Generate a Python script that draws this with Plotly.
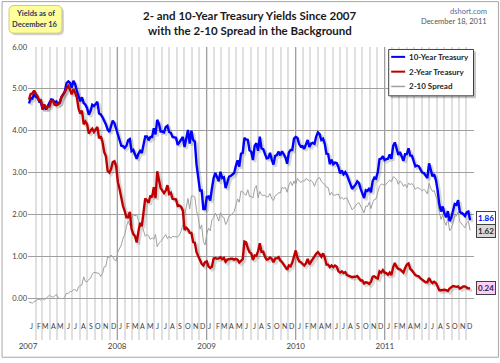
import pandas as pd
import plotly.graph_objects as go

# ---------------- data (weekly readings, Fridays) ----------------
ten_2007 = [4.65, 4.78, 4.77, 4.88, 4.81, 4.79, 4.69, 4.68, 4.51, 4.59, 4.51, 4.60, 4.65,
            4.75, 4.74, 4.67, 4.70, 4.64, 4.67, 4.80, 4.86, 4.95, 5.14, 5.18, 5.14, 5.03,
            5.19, 5.11, 4.95, 4.80, 4.70, 4.80, 4.66, 4.62, 4.54, 4.38, 4.47, 4.62, 4.59,
            4.64, 4.69, 4.41, 4.39, 4.32, 4.24, 4.15, 4.03, 3.97, 4.11, 4.24, 4.18, 4.04]
ten_2008 = [3.88, 3.79, 3.64, 3.63, 3.59, 3.64, 3.77, 3.80, 3.51, 3.54, 3.44, 3.33, 3.45,
            3.52, 3.47, 3.72, 3.86, 3.86, 3.77, 3.85, 3.85, 4.06, 3.91, 4.26, 4.17, 3.98,
            3.98, 3.96, 4.09, 4.12, 3.97, 3.95, 3.85, 3.84, 3.83, 3.66, 3.72, 3.78, 3.85,
            3.61, 3.87, 4.02, 3.69, 4.00, 3.78, 3.74, 3.19, 2.93, 2.57, 2.57, 2.13, 2.13]
ten_2009 = [2.42, 2.43, 2.33, 2.62, 2.87, 2.99, 2.89, 2.79, 3.02, 2.87, 2.89, 2.63, 2.76,
            2.90, 2.92, 2.96, 2.99, 3.16, 3.29, 3.14, 3.45, 3.47, 3.83, 3.79, 3.78, 3.53,
            3.50, 3.30, 3.64, 3.70, 3.52, 3.86, 3.58, 3.56, 3.45, 3.34, 3.35, 3.47, 3.31,
            3.19, 3.40, 3.42, 3.50, 3.41, 3.51, 3.42, 3.36, 3.21, 3.48, 3.54, 3.54, 3.81]
ten_2010 = [3.85, 3.83, 3.68, 3.62, 3.63, 3.57, 3.69, 3.78, 3.61, 3.69, 3.71, 3.69, 3.86,
            3.96, 3.92, 3.78, 3.81, 3.69, 3.45, 3.44, 3.20, 3.31, 3.20, 3.24, 3.23, 3.13,
            2.98, 3.05, 2.96, 3.01, 2.94, 2.82, 2.69, 2.61, 2.66, 2.71, 2.79, 2.75, 2.61,
            2.52, 2.39, 2.58, 2.56, 2.63, 2.53, 2.79, 2.88, 2.86, 3.01, 3.32, 3.33, 3.39, 3.30]
ten_2011 = [3.32, 3.33, 3.43, 3.33, 3.64, 3.72, 3.58, 3.42, 3.49, 3.40, 3.28, 3.44,
            3.44, 3.58, 3.41, 3.40, 3.29, 3.15, 3.17, 3.15, 3.07, 3.00, 2.99, 2.94, 2.87,
            3.22, 3.03, 2.91, 2.96, 2.82, 2.58, 2.24, 2.07, 2.19, 2.02, 1.93, 2.08, 1.84, 1.92,
            2.08, 2.25, 2.23, 2.34, 2.06, 2.04, 2.01, 1.96, 2.05, 2.07, 1.86]

two_2007 = [4.74, 4.88, 4.89, 4.96, 4.88, 4.82, 4.72, 4.73, 4.52, 4.63, 4.52, 4.58, 4.58,
            4.71, 4.72, 4.62, 4.61, 4.63, 4.68, 4.81, 4.87, 4.92, 5.02, 5.07, 4.98, 4.87,
            4.99, 4.91, 4.79, 4.53, 4.41, 4.48, 4.15, 4.22, 4.15, 3.93, 4.00, 4.05, 3.97,
            4.03, 4.09, 3.82, 3.87, 3.73, 3.49, 3.39, 3.04, 3.00, 3.08, 3.25, 3.27, 3.15]
two_2008 = [2.77, 2.60, 2.37, 2.20, 2.08, 1.93, 1.93, 2.06, 1.65, 1.53, 1.48, 1.33, 1.59,
            1.80, 1.72, 2.12, 2.38, 2.34, 2.28, 2.45, 2.41, 2.65, 2.39, 3.03, 2.86, 2.63,
            2.57, 2.51, 2.57, 2.70, 2.49, 2.52, 2.37, 2.37, 2.36, 2.20, 2.21, 2.18, 2.09,
            1.63, 1.68, 1.64, 1.56, 1.56, 1.34, 1.32, 1.10, 1.00, 0.92, 0.82, 0.78, 0.86]
two_2009 = [0.88, 0.76, 0.72, 0.75, 0.95, 0.96, 0.94, 0.95, 0.98, 0.93, 0.96, 0.87, 0.92,
            0.94, 0.94, 0.94, 0.92, 0.94, 0.92, 0.85, 0.89, 0.93, 1.35, 1.33, 1.19, 1.10,
            1.07, 0.91, 1.02, 1.01, 1.12, 1.31, 1.11, 1.11, 0.99, 0.92, 0.93, 0.97, 0.94,
            0.86, 0.95, 0.95, 0.98, 0.90, 0.86, 0.80, 0.72, 0.68, 0.78, 0.76, 0.85, 1.01]
two_2010 = [1.14, 0.97, 0.88, 0.86, 0.82, 0.78, 0.83, 0.94, 0.81, 0.88, 0.94, 1.02, 1.06,
            1.10, 1.04, 0.99, 1.07, 0.97, 0.80, 0.80, 0.74, 0.78, 0.74, 0.78, 0.75, 0.64,
            0.61, 0.64, 0.60, 0.62, 0.55, 0.53, 0.51, 0.50, 0.51, 0.51, 0.53, 0.47, 0.42,
            0.42, 0.35, 0.38, 0.37, 0.34, 0.39, 0.51, 0.52, 0.49, 0.47, 0.64, 0.61, 0.67, 0.61]
two_2011 = [0.60, 0.56, 0.61, 0.55, 0.74, 0.84, 0.75, 0.70, 0.69, 0.64, 0.61, 0.72,
            0.80, 0.83, 0.70, 0.66, 0.61, 0.55, 0.53, 0.52, 0.47, 0.44, 0.39, 0.38, 0.38,
            0.48, 0.40, 0.36, 0.39, 0.36, 0.28, 0.19, 0.19, 0.20, 0.20, 0.19, 0.17, 0.23, 0.25,
            0.29, 0.28, 0.27, 0.28, 0.23, 0.25, 0.28, 0.28, 0.25, 0.23, 0.24]

first_date = "2007-01-05"
years = [2007, 2008, 2009, 2010, 2011]
year_labels = ["2007", "2008", "2009", "2010", "2011", ""]
month_letters = ["J", "F", "M", "A", "M", "J", "J", "A", "S", "O", "N", "D"]
y_tick_values = [0, 1, 2, 3, 4, 5, 6]
series_names = ["10-Year Treasury", "2-Year Treasury", "2-10 Spread"]
series_colors = ["#0000ff", "#c00000", "#a0a0a0"]

ten_year = ten_2007 + ten_2008 + ten_2009 + ten_2010 + ten_2011
two_year = two_2007 + two_2008 + two_2009 + two_2010 + two_2011
spread = [round(a - b, 2) for a, b in zip(ten_year, two_year)]
dates = pd.date_range(first_date, periods=len(ten_year), freq="W-FRI")

# ---------------- geometry helpers ----------------
W, H = 500, 363
L, R, T, B = 27, 474, 47, 344


def px(x):
    return (x - L) / (R - L)


def py(y):
    return (B - y) / (B - T)


def rrect(x0, y0, x1, y1, r):
    pts = [
        f"M {px(x0 + r)},{py(y0)}",
        f"L {px(x1 - r)},{py(y0)}", f"Q {px(x1)},{py(y0)} {px(x1)},{py(y0 + r)}",
        f"L {px(x1)},{py(y1 - r)}", f"Q {px(x1)},{py(y1)} {px(x1 - r)},{py(y1)}",
        f"L {px(x0 + r)},{py(y1)}", f"Q {px(x0)},{py(y1)} {px(x0)},{py(y1 - r)}",
        f"L {px(x0)},{py(y0 + r)}", f"Q {px(x0)},{py(y0)} {px(x0 + r)},{py(y0)}", "Z"]
    return " ".join(pts)


def label(x, y, text, size, color, xanchor="center"):
    return dict(x=px(x), y=py(y), xref="paper", yref="paper", showarrow=False,
                xanchor=xanchor, yanchor="middle", text=text,
                font=dict(family=FONT, size=size, color=color))


x_start = pd.Timestamp("2007-01-01")
x_end = pd.Timestamp("2012-01-01")
y_min, y_max = -1, 6
sh_px = 2
dx = (x_end - x_start) * (sh_px / (R - L))
dy = (y_max - y_min) * sh_px / (B - T)

FONT = "Lato"
fig = go.Figure()

# shadows on base axes (shifted 2px right/down)
for vals in (ten_year, two_year):
    fig.add_trace(go.Scatter(x=dates, y=vals, mode="lines", showlegend=False, hoverinfo="skip",
                             line=dict(color="rgba(0,0,0,0.15)", width=3), xaxis="x", yaxis="y"))

fig.add_trace(go.Scatter(x=dates, y=spread, mode="lines", name=series_names[2], showlegend=False,
                         line=dict(color=series_colors[2], width=1), xaxis="x2", yaxis="y2"))
fig.add_trace(go.Scatter(x=dates, y=ten_year, mode="lines", name=series_names[0], showlegend=False,
                         line=dict(color=series_colors[0], width=2.4), xaxis="x2", yaxis="y2"))
fig.add_trace(go.Scatter(x=dates, y=two_year, mode="lines", name=series_names[1], showlegend=False,
                         line=dict(color=series_colors[1], width=2.4), xaxis="x2", yaxis="y2"))

annotations = []
# month letters
for yr in years:
    for m, letter in enumerate(month_letters):
        annotations.append(dict(x=pd.Timestamp(yr, m + 1, 15), y=-0.66, xref="x2", yref="y2",
                                xanchor="center", yanchor="middle",
                                text=letter, showarrow=False,
                                font=dict(family=FONT, size=7, color="#404040")))

# titles and notes
annotations += [
    label(249.5, 15, "<b>2- and 10-Year Treasury Yields Since 2007</b>", 11.5, "#1a1a1a"),
    label(249.5, 30, "<b>with the 2-10 Spread in the Background</b>", 11.5, "#1a1a1a"),
    label(489, 11, "dshort.com", 7.5, "#4a6fa5", "right"),
    label(489, 21.5, "December 18, 2011", 7.5, "#555555", "right"),
    label(34.5, 13.5, "<b>Yields as of</b>", 7.5, "#1f3864"),
    label(34.5, 24, "<b>December 16</b>", 7.5, "#1f3864"),
]

# manual legend entries
leg_rows = [57, 72, 87]
for name, row in zip(series_names, leg_rows):
    annotations.append(label(407, row, f"<b>{name}</b>", 8, "#262626", "left"))

# end-value labels
end_labels = [
    (ten_year[-1], "#0000ff", "#ffffff", 2),
    (spread[-1], "#262626", "#d9d9d9", -1),
    (two_year[-1], "#262626", "#ffccff", 0),
]
for val, fc, bg, ys in end_labels:
    annotations.append(dict(x=px(476), y=val, xref="paper", yref="y2", xanchor="left",
                            yanchor="middle", yshift=ys, showarrow=False, text=f"<b>{val:.2f}</b>",
                            bgcolor=bg, bordercolor="#404040", borderwidth=1, borderpad=1,
                            font=dict(family=FONT, size=8, color=fc)))

shapes = [
    # chart frame
    dict(type="rect", xref="paper", yref="paper", x0=px(1), x1=px(498.5), y0=py(361.5), y1=py(1),
         line=dict(color="#a6a6a6", width=1), layer="below"),
    # yellow note box + shadow
    dict(type="path", xref="paper", yref="paper", path=rrect(10, 7, 63, 35, 5),
         fillcolor="rgba(0,0,0,0.18)", line=dict(width=0)),
    dict(type="path", xref="paper", yref="paper", path=rrect(8, 5, 61, 33, 5),
         fillcolor="#ffff99", line=dict(color="#c9c98a", width=1)),
    # legend box + shadow
    dict(type="rect", xref="paper", yref="paper", x0=px(390.5), x1=px(476), y0=py(99), y1=py(51.5),
         fillcolor="rgba(0,0,0,0.22)", line=dict(width=0)),
    dict(type="rect", xref="paper", yref="paper", x0=px(388.5), x1=px(473.5), y0=py(96.5), y1=py(49.5),
         fillcolor="white", line=dict(color="#404040", width=1)),
]
for color, row, wd in zip(series_colors, leg_rows, [2, 2, 1.5]):
    shapes.append(dict(type="line", xref="paper", yref="paper", x0=px(391), x1=px(405),
                       y0=py(row), y1=py(row), line=dict(color=color, width=wd)))

fig.update_layout(
    width=W, height=H,
    margin=dict(l=L, r=W - R, t=T, b=H - B, pad=0),
    paper_bgcolor="white", plot_bgcolor="white",
    font=dict(family=FONT, size=8, color="#404040"),
    showlegend=False,
    hovermode=False,
    xaxis=dict(type="date", range=[x_start - dx, x_end - dx], visible=False, fixedrange=True),
    yaxis=dict(range=[y_min + dy, y_max + dy], visible=False, fixedrange=True),
    xaxis2=dict(type="date", overlaying="x", anchor="y2", range=[x_start, x_end],
                tickvals=[pd.Timestamp(y, 1, 1) for y in years + [2012]], ticktext=year_labels,
                showgrid=True, gridcolor="#a0a0a0", gridwidth=1, ticks="", zeroline=False,
                showline=False, tickfont=dict(family=FONT, size=8, color="#404040"),
                minor=dict(dtick="M1", tick0="2007-01-01", showgrid=True, gridcolor="#e0e0e0",
                           gridwidth=2)),
    yaxis2=dict(overlaying="y", anchor="x2", range=[y_min, y_max], tickvals=y_tick_values,
                ticktext=[f"{v:.2f}" for v in y_tick_values], showgrid=True,
                gridcolor="#a0a0a0", gridwidth=1, zeroline=False, ticks="", showline=False,
                tickfont=dict(family=FONT, size=7.5, color="#404040")),
    annotations=annotations,
    shapes=shapes,
)

fig.write_html("out.html", config={"displayModeBar": False},
               post_script="document.body.style.margin='0';document.body.style.overflow='hidden';")
